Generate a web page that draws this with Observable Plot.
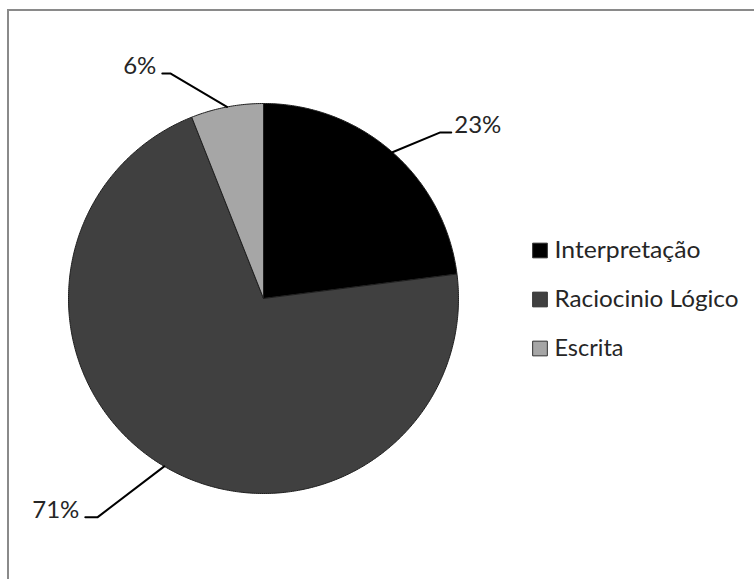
<!DOCTYPE html>
<html>
<head>
<meta charset="utf-8">
<script src="https://cdn.jsdelivr.net/npm/d3@7"></script>
<script src="https://cdn.jsdelivr.net/npm/@observablehq/plot@0.6"></script>
<style>
  html, body { margin: 0; padding: 0; background: #fff; }
  #wrap { position: relative; width: 754px; height: 579px; overflow: hidden; }
  #frame { position: absolute; left: 7px; top: 9px; width: 800px; height: 700px;
           border-left: 2px solid #8a8a8a; border-top: 2px solid #8a8a8a; }
  #pie { position: absolute; left: 0; top: 0; }
  #legend { position: absolute; left: 520px; top: 225px; }
</style>
</head>
<body>
<div id="wrap"><div id="frame"></div><div id="pie"></div><div id="legend"></div></div>
<script>
// ---- data ----
const categories = ["Interpretação", "Raciocinio Lógico", "Escrita"];
const values = [23, 71, 6];
const pctLabels = ["23%", "71%", "6%"];
const colors = ["#000000", "#404040", "#a6a6a6"];

// ---- layout (leader-line elbows in radius units, angle clockwise from 12 o'clock) ----
const labelLayout = [
  {r: 1.244, angle: 46.8, tail: 0.056, side: "right"},
  {r: 1.409, angle: 217.2, tail: 0.062, side: "left"},
  {r: 1.249, angle: -22.5, tail: 0.041, side: "left"}
];
// legend text widths (px) to mimic the original font's metrics
const legendTextWidths = [146, 184, 69];
const font = "Lato, 'Open Sans', sans-serif";
const fontSize = 24;

const arcs = d3.pie().sort(null).value(d => d)(values);

// slice polygons
const slicePts = [];
arcs.forEach((a, i) => {
  const cat = categories[i];
  slicePts.push({cat, x: 0, y: 0});
  const n = Math.max(4, Math.ceil((a.endAngle - a.startAngle) / 0.01));
  for (let k = 0; k <= n; k++) {
    const t = a.startAngle + (a.endAngle - a.startAngle) * k / n;
    slicePts.push({cat, x: Math.sin(t), y: Math.cos(t)});
  }
  slicePts.push({cat, x: 0, y: 0});
});

// leader lines and labels
const leaderPts = [];
const labels = [];
arcs.forEach((a, i) => {
  const cat = categories[i];
  const L = labelLayout[i];
  const mid = (a.startAngle + a.endAngle) / 2;
  const ea = L.angle * Math.PI / 180;
  const ex = L.r * Math.sin(ea), ey = L.r * Math.cos(ea);
  const tx = ex + (L.side === "right" ? L.tail : -L.tail);
  leaderPts.push({cat, x: Math.sin(mid), y: Math.cos(mid)});
  leaderPts.push({cat, x: ex, y: ey});
  leaderPts.push({cat, x: tx, y: ey});
  labels.push({cat, x: tx, y: ey, text: pctLabels[i], side: L.side});
});

const pie = Plot.plot({
  width: 754, height: 579, margin: 0,
  x: {domain: [-1, 1], range: [68, 458], axis: null},
  y: {domain: [-1, 1], range: [493, 103], axis: null},
  color: {domain: categories, range: colors},
  style: {fontFamily: font, fontSize: fontSize + "px", background: "transparent", overflow: "visible"},
  marks: [
    Plot.line(slicePts, {x: "x", y: "y", z: "cat", fill: "cat", stroke: "#1e1e1e", strokeWidth: 1, strokeLinejoin: "round"}),
    Plot.line(leaderPts, {x: "x", y: "y", z: "cat", stroke: "#000", strokeWidth: 2, strokeLinejoin: "miter"}),
    Plot.text(labels.filter(d => d.side === "right"), {x: "x", y: "y", text: "text", textAnchor: "start", lineAnchor: "bottom", dx: 3, dy: 1, fill: "#262626", fontSize: fontSize}),
    Plot.text(labels.filter(d => d.side === "left"), {x: "x", y: "y", text: "text", textAnchor: "end", lineAnchor: "bottom", dx: -6, dy: 1, fill: "#262626", fontSize: fontSize})
  ]
});
document.getElementById("pie").appendChild(pie);

const legend = Plot.plot({
  width: 230, height: 150, margin: 0,
  x: {domain: [0, 1], range: [19.5, 219.5], axis: null},
  y: {type: "point", domain: categories, range: [25, 123], padding: 0, axis: null},
  color: {domain: categories, range: colors},
  style: {fontFamily: font, fontSize: fontSize + "px", background: "transparent", overflow: "visible"},
  marks: [
    Plot.dot(categories, {x: () => 0, y: d => d, symbol: "square", r: 8.3, fill: d => d, stroke: "#333", strokeWidth: 1}),
    Plot.text(categories, {x: () => 0, y: d => d, text: d => d, dx: 14.5, textAnchor: "start", lineAnchor: "middle", fill: "#262626", fontSize: fontSize})
  ]
});
d3.select(legend).selectAll("g[aria-label='text'] text").each(function(d, i) {
  const w = legendTextWidths[i];
  if (w) d3.select(this).attr("textLength", w).attr("lengthAdjust", "spacingAndGlyphs");
});
document.getElementById("legend").appendChild(legend);
</script>
</body>
</html>
